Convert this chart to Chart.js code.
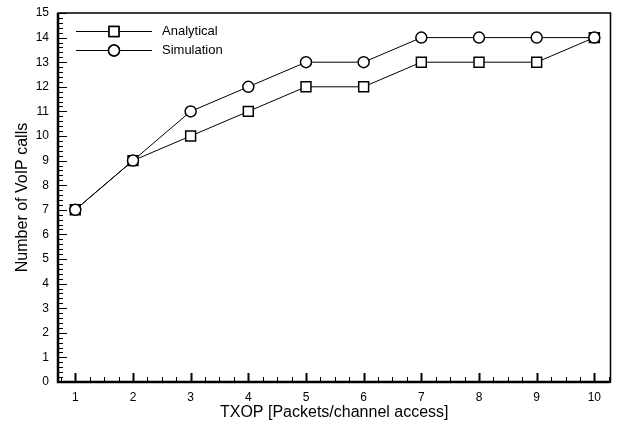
<!DOCTYPE html>
<html>
<head>
<meta charset="utf-8">
<script src="https://cdn.jsdelivr.net/npm/chart.js@4/dist/chart.umd.min.js"></script>
<style>
  html, body { margin: 0; padding: 0; background: #fff; }
  #wrap { width: 619px; height: 425px; }
</style>
</head>
<body>
<div id="wrap"><canvas id="voip-chart"></canvas></div>
<script>
const txop = [1, 2, 3, 4, 5, 6, 7, 8, 9, 10];
const analytical = [7, 9, 10, 11, 12, 12, 13, 13, 13, 14];
const simulation = [7, 9, 11, 12, 13, 13, 14, 14, 14, 14];
const xTicks = [1, 2, 3, 4, 5, 6, 7, 8, 9, 10];
const yTicks = [0, 1, 2, 3, 4, 5, 6, 7, 8, 9, 10, 11, 12, 13, 14, 15];

const FONT = 'Liberation Sans, Arial, Helvetica, sans-serif';

// frame, inward major/minor ticks, inset legend
const framePlugin = {
  id: 'frame',
  afterDatasetsDraw(chart) {
    const { ctx, chartArea: a, scales } = chart;
    const xs = scales.x, ys = scales.y;
    ctx.save();
    ctx.strokeStyle = '#000';

    // y ticks
    ctx.lineWidth = 1;
    for (let v = 0; v <= 15.001; v += 0.2) {
      const major = Math.abs(v - Math.round(v)) < 1e-6;
      const py = Math.round(ys.getPixelForValue(v)) + 0.5;
      ctx.beginPath();
      ctx.moveTo(a.left, py);
      ctx.lineTo(a.left + (major ? 9 : 5), py);
      ctx.stroke();
    }
    // x ticks
    for (let v = 0.75; v <= 10.26; v += 0.25) {
      const major = Math.abs(v - Math.round(v)) < 1e-6;
      const px = Math.round(xs.getPixelForValue(v)) + 0.5;
      ctx.lineWidth = major ? 2 : 1;
      ctx.beginPath();
      ctx.moveTo(px, a.bottom);
      ctx.lineTo(px, a.bottom - (major ? 9 : 5));
      ctx.stroke();
    }

    // box
    ctx.lineWidth = 1.5;
    ctx.strokeRect(a.left, a.top, a.right - a.left, a.bottom - a.top);
    ctx.lineWidth = 2.5;
    ctx.beginPath();
    ctx.moveTo(a.left, a.top);
    ctx.lineTo(a.left, a.bottom);
    ctx.lineTo(a.right, a.bottom);
    ctx.stroke();

    // legend
    const items = [
      { label: 'Analytical', style: 'rect', r: 7 },
      { label: 'Simulation', style: 'circle', r: 5.5 }
    ];
    ctx.font = '13px ' + FONT;
    ctx.fillStyle = '#000';
    ctx.textBaseline = 'middle';
    items.forEach((it, i) => {
      const y = 31 + i * 19;
      ctx.lineWidth = 1;
      ctx.beginPath();
      ctx.moveTo(76, y + 0.5);
      ctx.lineTo(152, y + 0.5);
      ctx.stroke();
      ctx.fillStyle = '#fff';
      ctx.lineWidth = 1.5;
      Chart.helpers.drawPoint(ctx, { pointStyle: it.style, radius: it.r, rotation: 0, borderWidth: 1.5 }, 114, y + 0.5);
      ctx.fill();
      ctx.stroke();
      ctx.fillStyle = '#000';
      ctx.fillText(it.label, 162, y);
    });
    ctx.restore();
  }
};

new Chart(document.getElementById('voip-chart'), {
  type: 'line',
  data: {
    labels: txop,
    datasets: [
      {
        label: 'Analytical',
        data: txop.map((x, i) => ({ x: x, y: analytical[i] })),
        borderColor: '#000',
        borderWidth: 1,
        pointStyle: 'rect',
        pointRadius: 7,
        pointBorderWidth: 1.5,
        pointBackgroundColor: '#fff',
        pointBorderColor: '#000',
        order: 2
      },
      {
        label: 'Simulation',
        data: txop.map((x, i) => ({ x: x, y: simulation[i] })),
        borderColor: '#000',
        borderWidth: 1,
        pointStyle: 'circle',
        pointRadius: 5.5,
        pointBorderWidth: 1.5,
        pointBackgroundColor: '#fff',
        pointBorderColor: '#000',
        order: 1
      }
    ]
  },
  options: {
    responsive: true,
    maintainAspectRatio: false,
    animation: false,
    layout: { padding: { top: 13, right: 4, left: 13, bottom: 0 } },
    plugins: { legend: { display: false }, tooltip: { enabled: false } },
    scales: {
      x: {
        type: 'linear',
        min: 0.7,
        max: 10.28,
        afterBuildTicks: s => { s.ticks = xTicks.map(v => ({ value: v })); },
        afterFit: s => { s.height = 43; s.paddingLeft = 0; s.paddingRight = 0; },
        grid: { display: false, drawTicks: false },
        border: { display: false },
        ticks: { color: '#000', font: { family: FONT, size: 12 }, padding: 8, maxRotation: 0, autoSkip: false },
        title: { display: true, text: 'TXOP [Packets/channel access]', color: '#000', font: { family: FONT, size: 16 }, padding: { top: 0, bottom: 3 } }
      },
      y: {
        min: 0,
        max: 15,
        afterBuildTicks: s => { s.ticks = yTicks.map(v => ({ value: v })); },
        afterFit: s => { s.width = 45; s.paddingTop = 0; s.paddingBottom = 0; },
        grid: { display: false, drawTicks: false },
        border: { display: false },
        ticks: { color: '#000', font: { family: FONT, size: 12 }, padding: 9, autoSkip: false },
        title: { display: true, text: 'Number of VoIP calls', color: '#000', font: { family: FONT, size: 16 }, padding: { top: 0, bottom: 4 } }
      }
    }
  },
  plugins: [framePlugin]
});
</script>
</body>
</html>
